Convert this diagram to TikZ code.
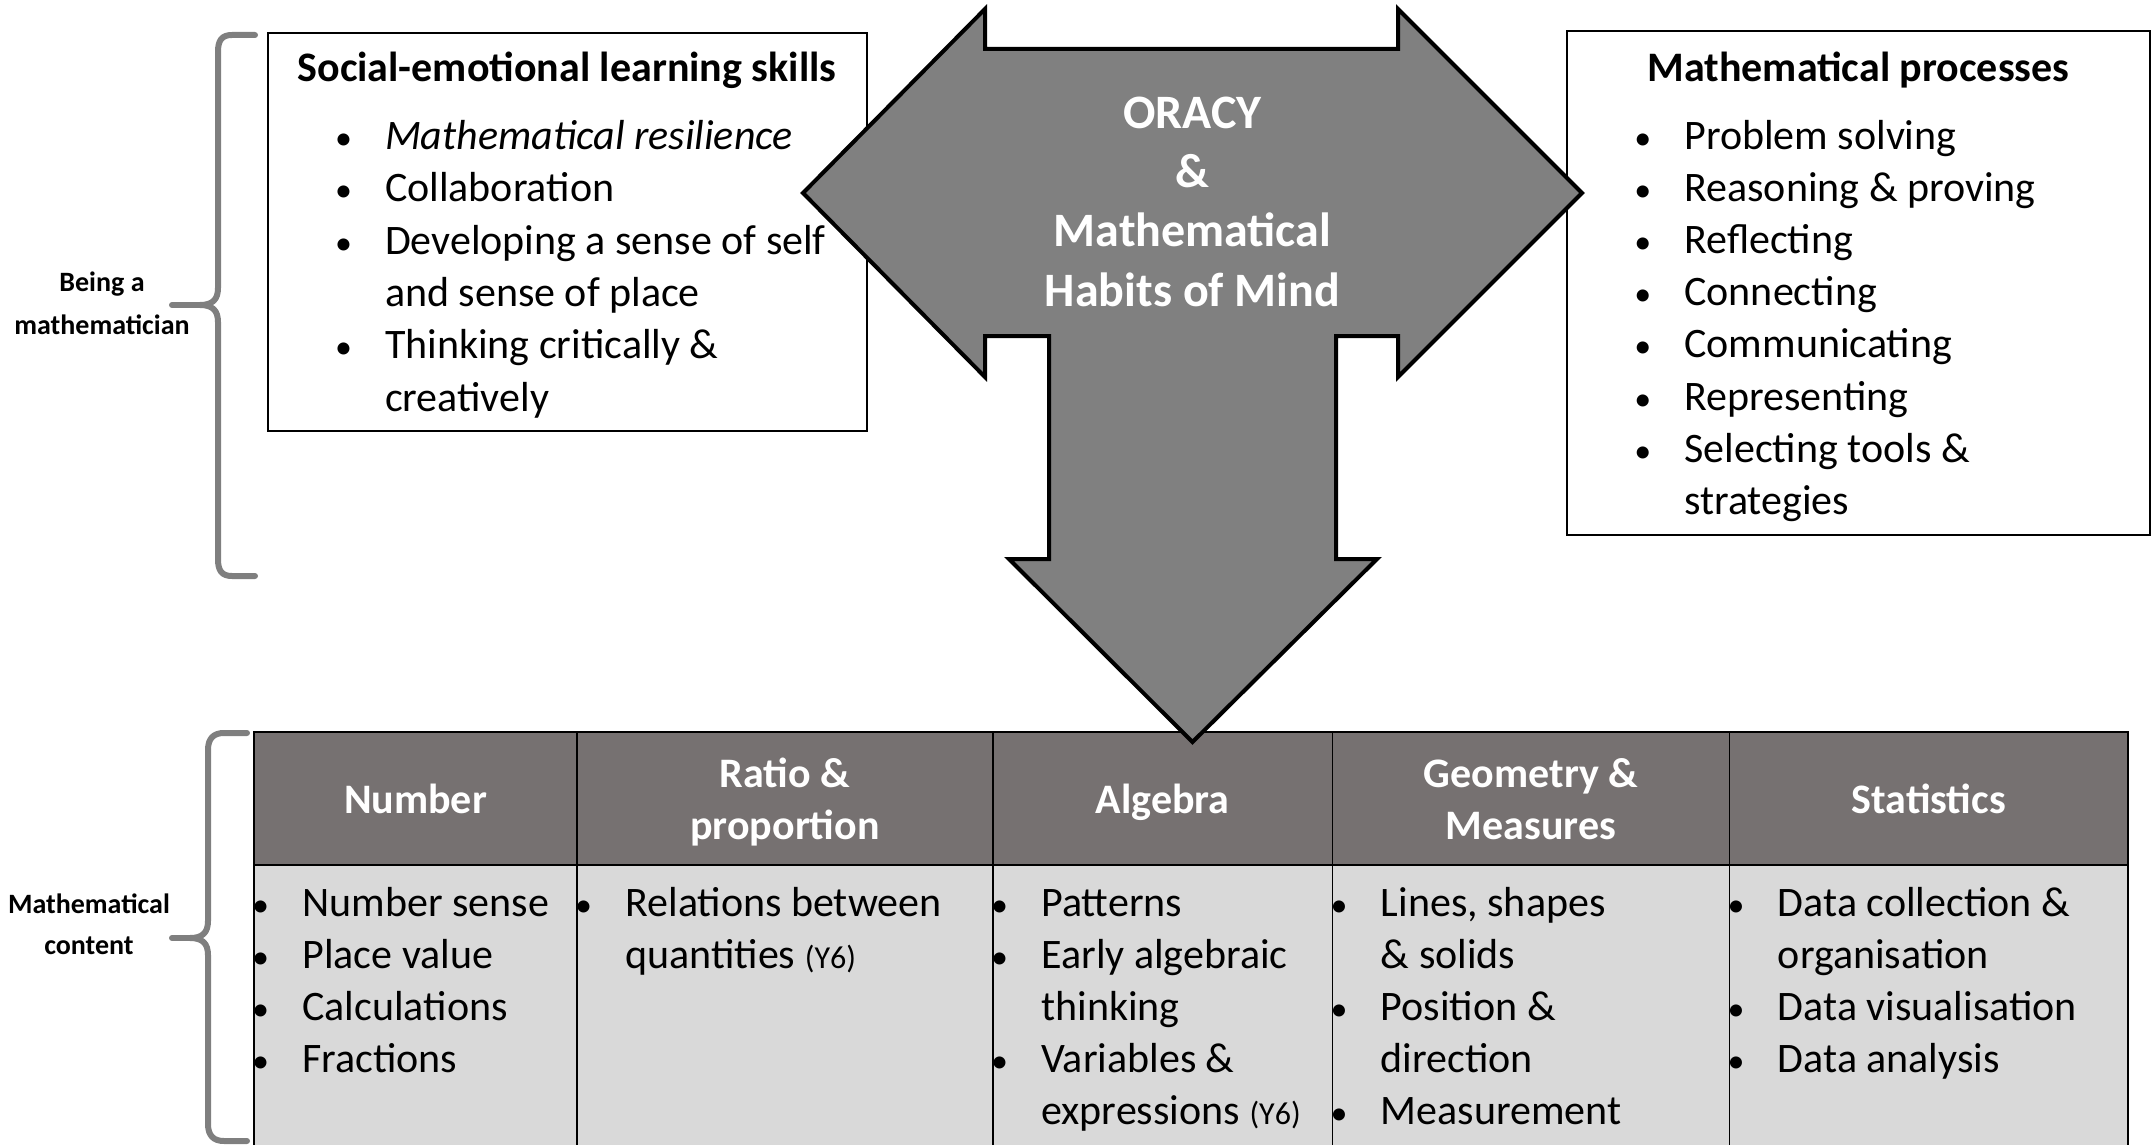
\documentclass[tikz,border=0pt]{standalone}
\usepackage{fontspec}
\setmainfont{Carlito}
\usepackage{tikz}

\definecolor{headgrey}{HTML}{767171}
\definecolor{cellgrey}{HTML}{D9D9D9}
\definecolor{arrowgrey}{HTML}{808080}
\definecolor{bracegrey}{HTML}{7F7F7F}

\tikzset{
  boxtitle/.style={inner sep=0pt, anchor=base, font=\fontsize{21}{26}\selectfont\bfseries},
  listtext/.style={inner sep=0pt, anchor=base west, font=\fontsize{21}{26}\selectfont},
  bulletmark/.style={inner sep=0pt, anchor=base, font=\fontsize{17}{26}\selectfont},
  headtext/.style={inner sep=0pt, anchor=base, text=white, font=\fontsize{21}{26}\selectfont\bfseries},
  oracytext/.style={inner sep=0pt, anchor=base, text=white, font=\fontsize{24}{29}\selectfont\bfseries},
  sidelabel/.style={inner sep=0pt, anchor=base, font=\fontsize{14}{21}\selectfont\bfseries},
  bracepen/.style={draw=bracegrey, line width=3pt, line cap=round, line join=round},
  framebox/.style={draw=black, line width=0.8pt},
  gridline/.style={draw=black, line width=0.7pt},
  gridouter/.style={draw=black, line width=1.4pt},
  bigarrow/.style={fill=arrowgrey, draw=black, line width=2pt, line join=miter},
}
\newcommand{\ysix}{{\fontsize{16}{20}\selectfont (Y6)}}

\begin{document}
\begin{tikzpicture}[x=0.5pt,y=0.5pt,yscale=-1,xscale=1]
        \useasboundingbox (0,0) rectangle (2154,1145);

        % braces
        \draw [bracepen] (255,35) -- (232,35) .. controls (222,35) and (218,40) .. (218,52) -- (218,288) .. controls (218,300) and (212,305) .. (200,305) .. controls (212,305) and (218,310) .. (218,322) -- (218,559) .. controls (218,571) and (222,576) .. (232,576) -- (255,576);
        \draw [bracepen] (200,305) -- (172,305);
        \draw [bracepen] (247,733) -- (224,733) .. controls (214,733) and (208,738) .. (208,750) -- (208,921) .. controls (208,933) and (202,938) .. (190,938) .. controls (202,938) and (208,943) .. (208,955) -- (208,1124) .. controls (208,1136) and (214,1141) .. (224,1141) -- (247,1141);
        \draw [bracepen] (190,938) -- (172,938);

        \node [sidelabel] (being1) at (102,292) {Being a};
        \node [sidelabel] (being2) at (102,334) {mathematician};
        \node [sidelabel] (content1) at (89,913) {Mathematical};
        \node [sidelabel] (content2) at (89,954) {content};

        % top boxes
        \draw [framebox] (268,33) rectangle (867,431);
        \node [boxtitle] (seltitle) at (567,82) {Social-emotional learning skills};
        \node [bulletmark] (selb1) at (343.6,150) {\textbullet};
        \node [listtext] (sel1) at (384.6,150) {\itshape Mathematical resilience};
        \node [bulletmark] (selb2) at (343.6,202) {\textbullet};
        \node [listtext] (sel2) at (384.6,202) {Collaboration};
        \node [bulletmark] (selb3) at (343.6,254) {\textbullet};
        \node [listtext] (sel3) at (384.6,254) {Developing a sense of self};
        \node [listtext] (sel3b) at (384.6,306.5) {and sense of place};
        \node [bulletmark] (selb4) at (343.6,358.5) {\textbullet};
        \node [listtext] (sel4) at (384.6,358.5) {Thinking critically \&};
        \node [listtext] (sel4b) at (384.6,411) {creatively};

        \draw [framebox] (1567,31) rectangle (2150,535);
        \node [boxtitle] (proctitle) at (1858.5,82) {Mathematical processes};
        \node [bulletmark] (procb1) at (1642.8,149) {\textbullet};
        \node [listtext] (proc1) at (1684,149) {Problem solving};
        \node [bulletmark] (procb2) at (1642.8,201) {\textbullet};
        \node [listtext] (proc2) at (1684,201) {Reasoning \& proving};
        \node [bulletmark] (procb3) at (1642.8,253) {\textbullet};
        \node [listtext] (proc3) at (1684,253) {Reflecting};
        \node [bulletmark] (procb4) at (1642.8,305) {\textbullet};
        \node [listtext] (proc4) at (1684,305) {Connecting};
        \node [bulletmark] (procb5) at (1642.8,357.5) {\textbullet};
        \node [listtext] (proc5) at (1684,357.5) {Communicating};
        \node [bulletmark] (procb6) at (1642.8,410) {\textbullet};
        \node [listtext] (proc6) at (1684,410) {Representing};
        \node [bulletmark] (procb7) at (1642.8,462) {\textbullet};
        \node [listtext] (proc7) at (1684,462) {Selecting tools \&};
        \node [listtext] (proc7b) at (1684,514) {strategies};

        % content table
        \fill [headgrey] (254,732) rectangle (2128,865);
        \fill [cellgrey] (254,865) rectangle (2128,1145);
        \draw [gridline] (254,865) -- (2128,865);
        \draw [gridline] (577,732) -- (577,1145);
        \draw [gridline] (993,732) -- (993,1145);
        \draw [gridline] (1332.5,732) -- (1332.5,1145);
        \draw [gridline] (1729.5,732) -- (1729.5,1145);
        \draw [gridouter] (254,1145) -- (254,732) -- (2128,732) -- (2128,1145);

        \node [headtext] (hnumber) at (415.5,813) {Number};
        \node [headtext] (hratio1) at (785,787) {Ratio \&};
        \node [headtext] (hratio2) at (785,839) {proportion};
        \node [headtext] (halgebra) at (1162.75,813) {Algebra};
        \node [headtext] (hgeom1) at (1531,787) {Geometry \&};
        \node [headtext] (hgeom2) at (1531,839) {Measures};
        \node [headtext] (hstats) at (1928.75,813) {Statistics};

        \node [bulletmark] (numb1) at (260.5,916) {\textbullet};
        \node [listtext] (num1) at (302,916) {Number sense};
        \node [bulletmark] (numb2) at (260.5,968) {\textbullet};
        \node [listtext] (num2) at (302,968) {Place value};
        \node [bulletmark] (numb3) at (260.5,1020) {\textbullet};
        \node [listtext] (num3) at (302,1020) {Calculations};
        \node [bulletmark] (numb4) at (260.5,1072.5) {\textbullet};
        \node [listtext] (num4) at (302,1072.5) {Fractions};

        \node [bulletmark] (ratb1) at (583.5,916) {\textbullet};
        \node [listtext] (rat1) at (625,916) {Relations between};
        \node [listtext] (rat1b) at (625,968) {quantities \ysix};

        \node [bulletmark] (algb1) at (999.5,916) {\textbullet};
        \node [listtext] (alg1) at (1041,916) {Patterns};
        \node [bulletmark] (algb2) at (999.5,968) {\textbullet};
        \node [listtext] (alg2) at (1041,968) {Early algebraic};
        \node [listtext] (alg2b) at (1041,1020) {thinking};
        \node [bulletmark] (algb3) at (999.5,1072.5) {\textbullet};
        \node [listtext] (alg3) at (1041,1072.5) {Variables \&};
        \node [listtext] (alg3b) at (1041,1124.5) {expressions \ysix};

        \node [bulletmark] (geob1) at (1339,916) {\textbullet};
        \node [listtext] (geo1) at (1380.5,916) {Lines, shapes};
        \node [listtext] (geo1b) at (1380.5,968) {\& solids};
        \node [bulletmark] (geob2) at (1339,1020) {\textbullet};
        \node [listtext] (geo2) at (1380.5,1020) {Position \&};
        \node [listtext] (geo2b) at (1380.5,1072.5) {direction};
        \node [bulletmark] (geob3) at (1339,1124.5) {\textbullet};
        \node [listtext] (geo3) at (1380.5,1124.5) {Measurement};

        \node [bulletmark] (stab1) at (1736,916) {\textbullet};
        \node [listtext] (sta1) at (1777.5,916) {Data collection \&};
        \node [listtext] (sta1b) at (1777.5,968) {organisation};
        \node [bulletmark] (stab2) at (1736,1020) {\textbullet};
        \node [listtext] (sta2) at (1777.5,1020) {Data visualisation};
        \node [bulletmark] (stab3) at (1736,1072.5) {\textbullet};
        \node [listtext] (sta3) at (1777.5,1072.5) {Data analysis};

        % three-way arrow
        \draw [bigarrow] (803,193) -- (985,9) -- (985,49) -- (1398,49) -- (1398,9) -- (1582,193) -- (1398,377) -- (1398,336) -- (1336,336) -- (1336,559) -- (1377,559) -- (1192.5,742) -- (1009,559) -- (1049,559) -- (1049,336) -- (985,336) -- (985,377) -- cycle;
        \node [oracytext] (oracy1) at (1192.5,129) {ORACY};
        \node [oracytext] (oracy2) at (1192.5,188) {\&};
        \node [oracytext] (oracy3) at (1192.5,247) {Mathematical};
        \node [oracytext] (oracy4) at (1192.5,306) {Habits of Mind};
    \end{tikzpicture}
\end{document}
